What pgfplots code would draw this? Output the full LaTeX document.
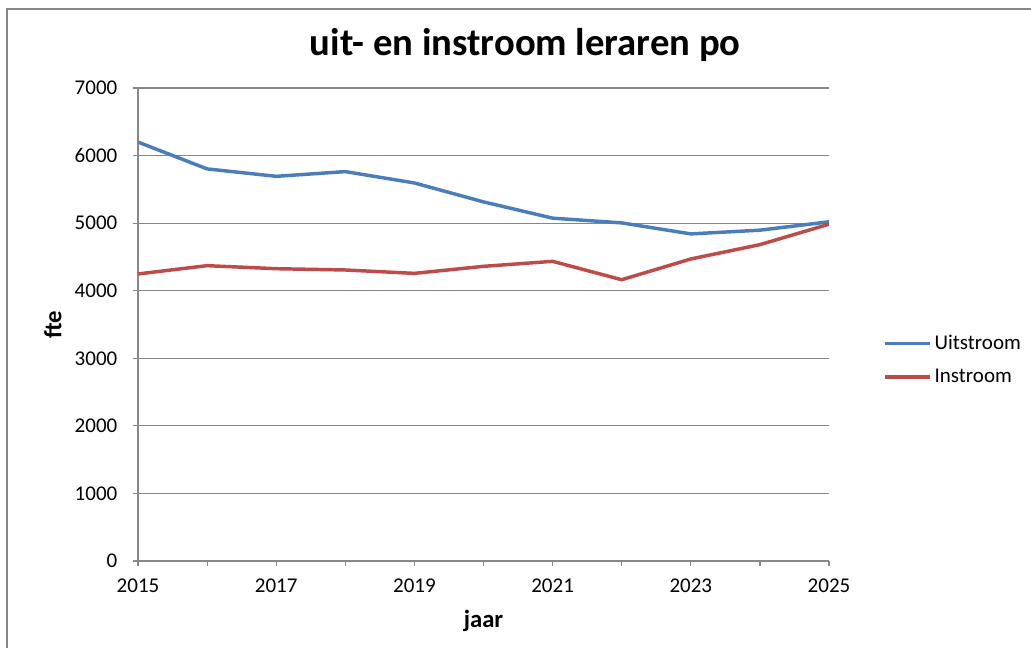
\documentclass[border=0pt]{standalone}
\usepackage{fontspec}
\setmainfont{Carlito}
\usepackage{pgfplots}
\pgfplotsset{compat=1.18}
\definecolor{xlblue}{HTML}{4A7EBB}
\definecolor{xlred}{HTML}{BE4B48}
\definecolor{xlgrid}{HTML}{878787}
\begin{document}
\begin{tikzpicture}
\useasboundingbox (0pt,0pt) rectangle (773.25pt,-485.25pt);
\draw[xlgrid, line width=1.5pt] (5.6pt,-490pt) -- (5.6pt,-7pt) -- (780pt,-7pt);
\node[font=\fontsize{29}{34}\selectfont\bfseries] at (394pt,-34pt) {uit- en instroom leraren po};
\begin{axis}[
  at={(103.5pt,-420.75pt)}, anchor=south west,
  scale only axis, width=518.25pt, height=354.75pt,
  xmin=2015, xmax=2025, ymin=0, ymax=7000,
  xtick={2015,2017,...,2025},
  minor xtick={2016,2018,...,2024},
  ytick={0,1000,...,7000},
  axis x line*=bottom, axis y line*=left,
  axis line style={xlgrid, line width=0.9pt, -},
  ymajorgrids, grid style={xlgrid, line width=0.9pt},
  tick style={xlgrid, line width=0.9pt},
  major tick length=4pt, minor tick length=4pt,
  xtick align=outside, ytick align=outside,
  x tick label style={/pgf/number format/1000 sep={}, yshift=-5.5pt},
  y tick label style={/pgf/number format/1000 sep={}, xshift=-8pt},
  /pgf/number format/assume math mode=true,
  ticklabel style={font=\fontsize{15.75}{18}\selectfont},
  xlabel={\textbf{jaar}}, ylabel={\textbf{fte}},
  xlabel style={font=\fontsize{18.5}{22}\selectfont, yshift=-7pt},
  ylabel style={font=\fontsize{18.5}{22}\selectfont, yshift=3pt},
  legend style={at={(1.078,0.425)}, anchor=west, draw=none, fill=none,
    font=\fontsize{15.75}{18}\selectfont, row sep=9pt, inner sep=0pt},
  legend cell align=left,
  legend image code/.code={\draw[#1] (0pt,0pt) -- (34pt,0pt);},
  every axis plot/.append style={line width=2.6pt, line join=round},
]
\addplot[xlblue] coordinates {
(2015,6200) (2016,5803) (2017,5693) (2018,5763) (2019,5595) (2020,5315)
(2021,5074) (2022,5004) (2023,4841) (2024,4896) (2025,5020)};
\addlegendentry{Uitstroom}
\addplot[xlred] coordinates {
(2015,4248) (2016,4371) (2017,4326) (2018,4307) (2019,4257) (2020,4361)
(2021,4435) (2022,4163) (2023,4470) (2024,4682) (2025,4985)};
\addlegendentry{Instroom}
\end{axis}
\end{tikzpicture}
\end{document}
